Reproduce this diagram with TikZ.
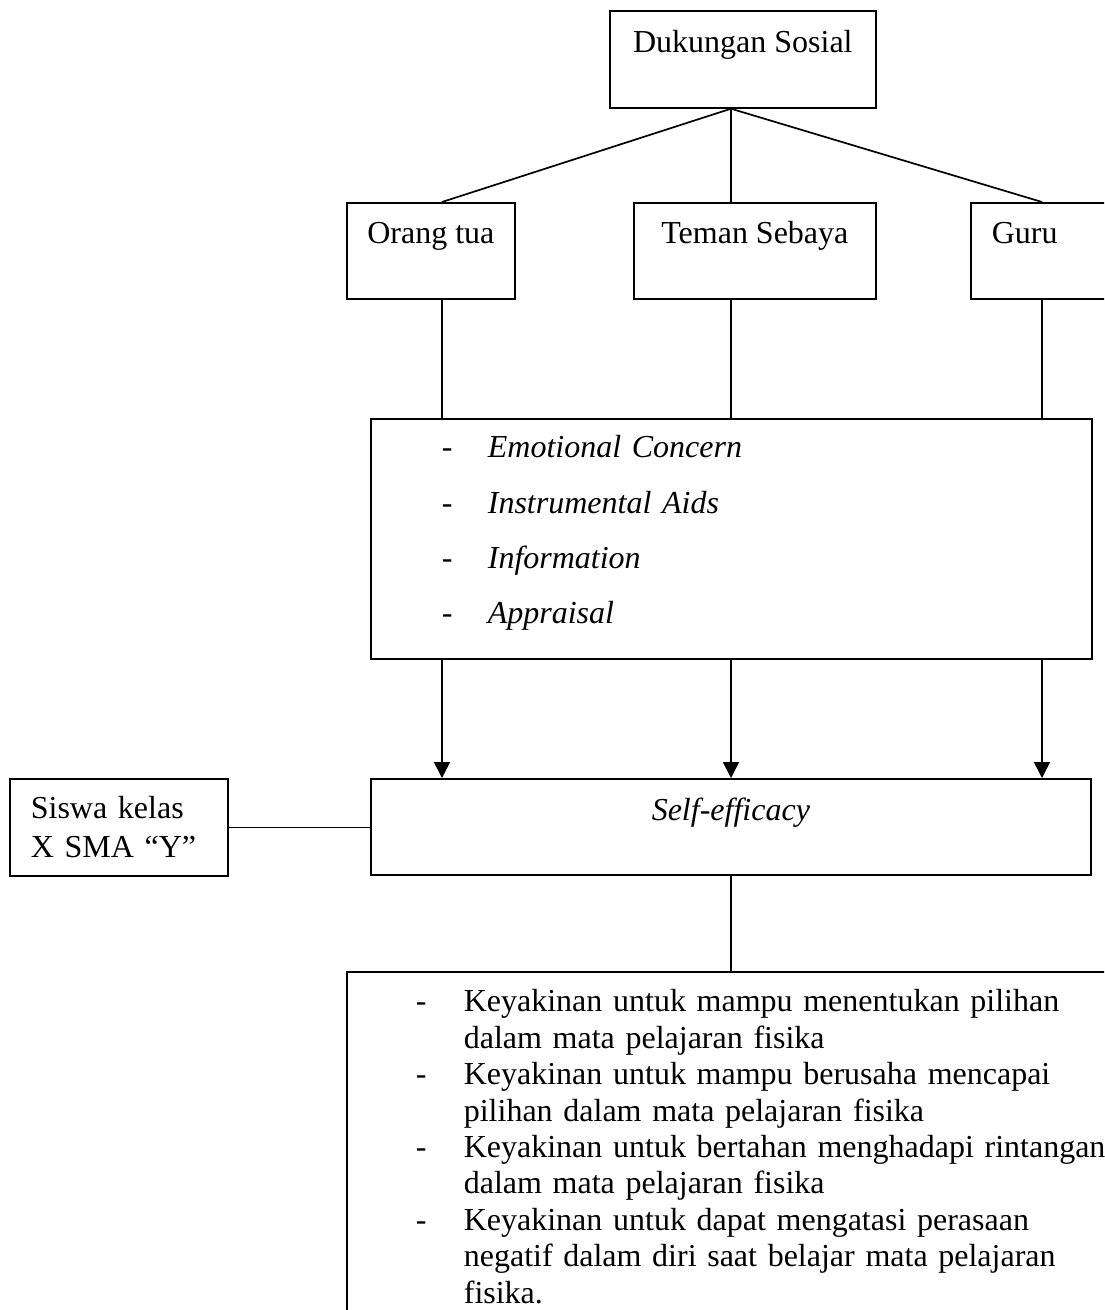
\documentclass[tikz,border=0pt]{standalone}
\usepackage{fontspec}
\setmainfont{Liberation Serif}
\usetikzlibrary{arrows.meta}
\tikzset{
  box/.style={draw, line width=1.7pt, rectangle, inner ysep=0pt, inner xsep=0pt,
    anchor=north west, font=\fontsize{32}{38}\selectfont},
  conn/.style={line width=1.7pt},
  arr/.style={line width=1.7pt, -{Triangle[length=16pt,width=16pt]}},
}
\begin{document}
\begin{tikzpicture}[x=1pt,y=-1pt]
\clip (0,0) rectangle (1104,1310);
\fill[white] (0,0) rectangle (1104,1310);

\node[box, minimum width=266pt, text height=42pt, text depth=55pt] (ds) at (609,10) {Dukungan Sosial};

\node[box, minimum width=168pt, text height=41pt, text depth=55pt] (ot) at (346,202) {Orang tua};
\node[box, minimum width=242pt, text height=41pt, text depth=55pt] (ts) at (633,202) {Teman Sebaya};
\node[box, inner xsep=21pt, text width=150pt, align=left, text height=41pt, text depth=55pt] (guru) at (970,202) {Guru};

\node[box, text width=721pt, align=left, text height=39pt, text depth=201pt,
  font=\fontsize{32}{55.3}\selectfont] (sup) at (370,418)
  {\hspace*{71pt}\makebox[46pt][l]{-}\textit{Emotional Concern}\\
   \hspace*{71pt}\makebox[46pt][l]{-}\textit{Instrumental Aids}\\
   \hspace*{71pt}\makebox[46pt][l]{-}\textit{Information}\\
   \hspace*{71pt}\makebox[46pt][l]{-}\textit{Appraisal}};

\node[box, minimum width=720pt, text height=42pt, text depth=54pt] (se) at (370,778) {\textit{Self-efficacy}};

\node[box, inner xsep=21pt, text width=176pt, align=left, text height=40pt, text depth=57pt,
  font=\fontsize{32}{39}\selectfont] (siswa) at (9,778) {Siswa kelas\\X SMA “Y”};

\node[box, text width=900pt, align=left, text height=40pt, text depth=400pt,
  font=\fontsize{32}{36.4}\selectfont] (bot) at (346,971)
  {\hspace*{69pt}\makebox[48pt][l]{-}Keyakinan untuk mampu menentukan pilihan\\
   \hspace*{117pt}dalam mata pelajaran fisika\\
   \hspace*{69pt}\makebox[48pt][l]{-}Keyakinan untuk mampu berusaha mencapai\\
   \hspace*{117pt}pilihan dalam mata pelajaran fisika\\
   \hspace*{69pt}\makebox[48pt][l]{-}Keyakinan untuk bertahan menghadapi rintangan\\
   \hspace*{117pt}dalam mata pelajaran fisika\\
   \hspace*{69pt}\makebox[48pt][l]{-}Keyakinan untuk dapat mengatasi perasaan\\
   \hspace*{117pt}negatif dalam diri saat belajar mata pelajaran\\
   \hspace*{117pt}fisika.};

% top tree
\coordinate (apex) at ([xshift=122pt]ds.south west);
\coordinate (otc) at ([xshift=96pt]ot.north west);
\coordinate (tsc) at ([xshift=98pt]ts.north west);
\coordinate (guc) at ([xshift=72pt]guru.north west);
\draw[conn] (apex) -- (otc);
\draw[conn] (apex) -- (tsc);
\draw[conn] (apex) -- (guc);

% down to support box
\draw[conn] ([xshift=96pt]ot.south west) -- ([xshift=96pt]ot.south west |- sup.north);
\draw[conn] ([xshift=98pt]ts.south west) -- ([xshift=98pt]ts.south west |- sup.north);
\draw[conn] ([xshift=72pt]guru.south west) -- ([xshift=72pt]guru.south west |- sup.north);

% arrows to self-efficacy
\draw[arr] ([xshift=72pt]sup.south west) -- ([xshift=72pt]sup.south west |- se.north);
\draw[arr] ([xshift=361pt]sup.south west) -- ([xshift=361pt]sup.south west |- se.north);
\draw[arr] ([xshift=672pt]sup.south west) -- ([xshift=672pt]sup.south west |- se.north);

% siswa to self-efficacy
\draw[conn] (siswa.east) -- (siswa.east -| se.west);

% self-efficacy to bottom box
\draw[conn] (se.south) -- (se.south |- bot.north);
\end{tikzpicture}
\end{document}
